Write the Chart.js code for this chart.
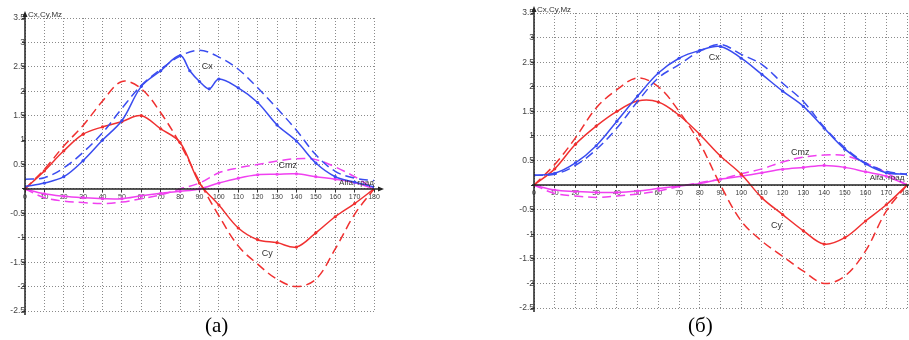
<!DOCTYPE html>
<html>
<head>
<meta charset="utf-8">
<script src="https://cdn.jsdelivr.net/npm/chart.js@4.4.1/dist/chart.umd.min.js"></script>
<style>
body{margin:0;background:#fff;width:909px;height:340px;overflow:hidden;position:relative}
canvas{position:absolute;top:0}
#chartA{left:0}
#chartB{left:460px}
.cap{position:absolute;top:313px;font:21px "Liberation Serif","DejaVu Serif",serif;color:#000;line-height:24px}
</style>
</head>
<body>
<canvas id="chartA" width="400" height="320"></canvas>
<canvas id="chartB" width="460" height="320"></canvas>
<div class="cap" style="left:205px">(а)</div>
<div class="cap" style="left:688px">(б)</div>
<script>
// углы атаки, град
const angles = [0,10,20,30,40,50,60,70,80,90,100,110,120,130,140,150,160,170,180];
const anglesCxA = [0,10,20,30,40,50,60,70,80,85,90,95,100,110,120,130,140,150,160,170,180];

// (а)
const cxSolidA = [0.05,0.12,0.25,0.58,1.0,1.4,2.1,2.42,2.73,2.42,2.2,2.05,2.25,2.07,1.77,1.31,0.98,0.53,0.25,0.14,0.04];
const cxDashA  = [0.2,0.23,0.43,0.75,1.15,1.65,2.12,2.45,2.72,2.84,2.7,2.45,2.07,1.65,1.2,0.7,0.36,0.22,0.17];
const cySolidA = [0,0.37,0.78,1.12,1.27,1.38,1.5,1.23,0.95,0.12,-0.33,-0.8,-1.04,-1.1,-1.19,-0.9,-0.57,-0.3,0];
const cyDashA  = [0,0.4,0.88,1.3,1.8,2.2,2.05,1.56,0.92,0.15,-0.55,-1.17,-1.54,-1.85,-2.0,-1.85,-1.23,-0.52,0];
const cmzSolidA = [0,-0.1,-0.15,-0.18,-0.2,-0.2,-0.14,-0.09,-0.05,0.0,0.12,0.22,0.29,0.3,0.31,0.25,0.2,0.13,0];
const cmzDashA  = [0,-0.18,-0.25,-0.28,-0.3,-0.27,-0.2,-0.12,0.0,0.12,0.33,0.43,0.5,0.57,0.62,0.6,0.45,0.25,0];

// (б)
const cxSolidB = [0.2,0.24,0.45,0.8,1.3,1.81,2.28,2.58,2.74,2.82,2.58,2.25,1.91,1.6,1.16,0.73,0.43,0.25,0.22];
const cxDashB  = [0.2,0.22,0.4,0.72,1.16,1.7,2.18,2.45,2.72,2.86,2.66,2.45,2.07,1.7,1.18,0.76,0.45,0.28,0.22];
const cySolidB = [0,0.33,0.83,1.2,1.5,1.71,1.69,1.42,1.03,0.59,0.22,-0.26,-0.6,-0.93,-1.2,-1.07,-0.73,-0.4,0];
const cyDashB  = [0,0.42,0.96,1.57,1.94,2.18,2.0,1.5,0.85,0.0,-0.73,-1.14,-1.45,-1.75,-2.0,-1.85,-1.34,-0.53,0];
const cmzSolidB = [0,-0.1,-0.13,-0.15,-0.15,-0.12,-0.07,-0.02,0.03,0.12,0.18,0.25,0.32,0.36,0.4,0.36,0.27,0.18,0];
const cmzDashB  = [0,-0.17,-0.22,-0.25,-0.22,-0.18,-0.12,-0.03,0.05,0.12,0.23,0.33,0.47,0.57,0.61,0.6,0.45,0.25,0];

const BLUE = '#3a4cf0', RED = '#f03030', MAG = '#f040f0';

function pts(xs, ys) {
    return xs.map((a, i) => ({x: a, y: ys[i]}));
}
function solid(xs, ys, color) {
    return {data: pts(xs, ys), borderColor: color, backgroundColor: color, borderWidth: 1.5,
        pointRadius: 1.6, pointBorderWidth: 0, tension: 0.35, fill: false};
}
function dashed(xs, ys, color) {
    return {data: pts(xs, ys), borderColor: color, borderWidth: 1.5, borderDash: [9, 5],
        pointRadius: 0, tension: 0.35, fill: false};
}

function makeChart(id, datasets, pad, notes) {
    const axesPlugin = {
        id: 'axes' + id,
        afterDatasetsDraw(chart) {
            const c = chart.ctx, xs = chart.scales.x, ys = chart.scales.y;
            const x0 = xs.getPixelForValue(0), y0 = ys.getPixelForValue(0);
            const top = chart.chartArea.top, bottom = chart.chartArea.bottom, right = chart.chartArea.right;
            c.save();
            c.strokeStyle = '#222'; c.fillStyle = '#222'; c.lineWidth = 1.5;
            c.beginPath();
            c.moveTo(x0, bottom + 4); c.lineTo(x0, top - 3);
            c.moveTo(x0 - 2, y0); c.lineTo(right + 6, y0);
            c.stroke();
            c.beginPath();
            c.moveTo(x0, top - 7); c.lineTo(x0 - 2.5, top - 1); c.lineTo(x0 + 2.5, top - 1); c.closePath();
            c.moveTo(right + 10, y0); c.lineTo(right + 4, y0 - 2.5); c.lineTo(right + 4, y0 + 2.5); c.closePath();
            c.fill();
            c.fillStyle = '#333';
            c.font = '8px "Liberation Sans", Arial, sans-serif';
            c.textBaseline = 'alphabetic';
            c.fillText('Cx,Cy,Mz', x0 + 3, top - 1);
            notes.forEach(n => {
                c.font = n.size + 'px "Liberation Sans", Arial, sans-serif';
                c.textAlign = n.align || 'center';
                c.fillText(n.text, xs.getPixelForValue(n.x), ys.getPixelForValue(n.y));
            });
            c.restore();
        }
    };
    return new Chart(document.getElementById(id), {
        type: 'line',
        data: {datasets: datasets},
        options: {
            responsive: false,
            animation: false,
            layout: {padding: pad},
            plugins: {legend: {display: false}, tooltip: {enabled: false}},
            scales: {
                x: {
                    type: 'linear', min: 0, max: 180, position: {y: 0},
                    ticks: {stepSize: 10, color: '#444', font: {size: 7, family: '"Liberation Sans", Arial'}, padding: 1},
                    grid: {color: '#8a8a8a', lineWidth: 1, tickLength: 3, tickColor: '#333'},
                    border: {display: false, dash: [1, 2]}
                },
                y: {
                    type: 'linear', min: -2.5, max: 3.5, position: {x: 0},
                    ticks: {stepSize: 0.5, color: '#444', font: {size: 8.5, family: '"Liberation Sans", Arial'}, padding: 1,
                        callback: v => v === 0 ? '' : String(v)},
                    grid: {color: '#8a8a8a', lineWidth: 1, tickLength: 3, tickColor: '#333'},
                    border: {display: false, dash: [1, 2]}
                }
            }
        },
        plugins: [axesPlugin]
    });
}

makeChart('chartA', [
    dashed(angles, cxDashA, BLUE), solid(anglesCxA, cxSolidA, BLUE),
    dashed(angles, cyDashA, RED), solid(angles, cySolidA, RED),
    dashed(angles, cmzDashA, MAG), solid(angles, cmzSolidA, MAG)
], {left: 25, right: 26, top: 18, bottom: 9}, [
    {text: 'Cx', x: 94, y: 2.45, size: 9},
    {text: 'Cy', x: 125, y: -1.38, size: 9},
    {text: 'Cmz', x: 135.5, y: 0.42, size: 9},
    {text: 'Alfa, град', x: 162, y: 0.07, size: 8, align: 'left'}
]);

makeChart('chartB', [
    dashed(angles, cxDashB, BLUE), solid(angles, cxSolidB, BLUE),
    dashed(angles, cyDashB, RED), solid(angles, cySolidB, RED),
    dashed(angles, cmzDashB, MAG), solid(angles, cmzSolidB, MAG)
], {left: 74, right: 13, top: 13, bottom: 12}, [
    {text: 'Cx', x: 87, y: 2.55, size: 9},
    {text: 'Cy', x: 117, y: -0.88, size: 9},
    {text: 'Cmz', x: 128.5, y: 0.62, size: 9},
    {text: 'Alfa, град', x: 162, y: 0.1, size: 8, align: 'left'}
]);
</script>
</body>
</html>
